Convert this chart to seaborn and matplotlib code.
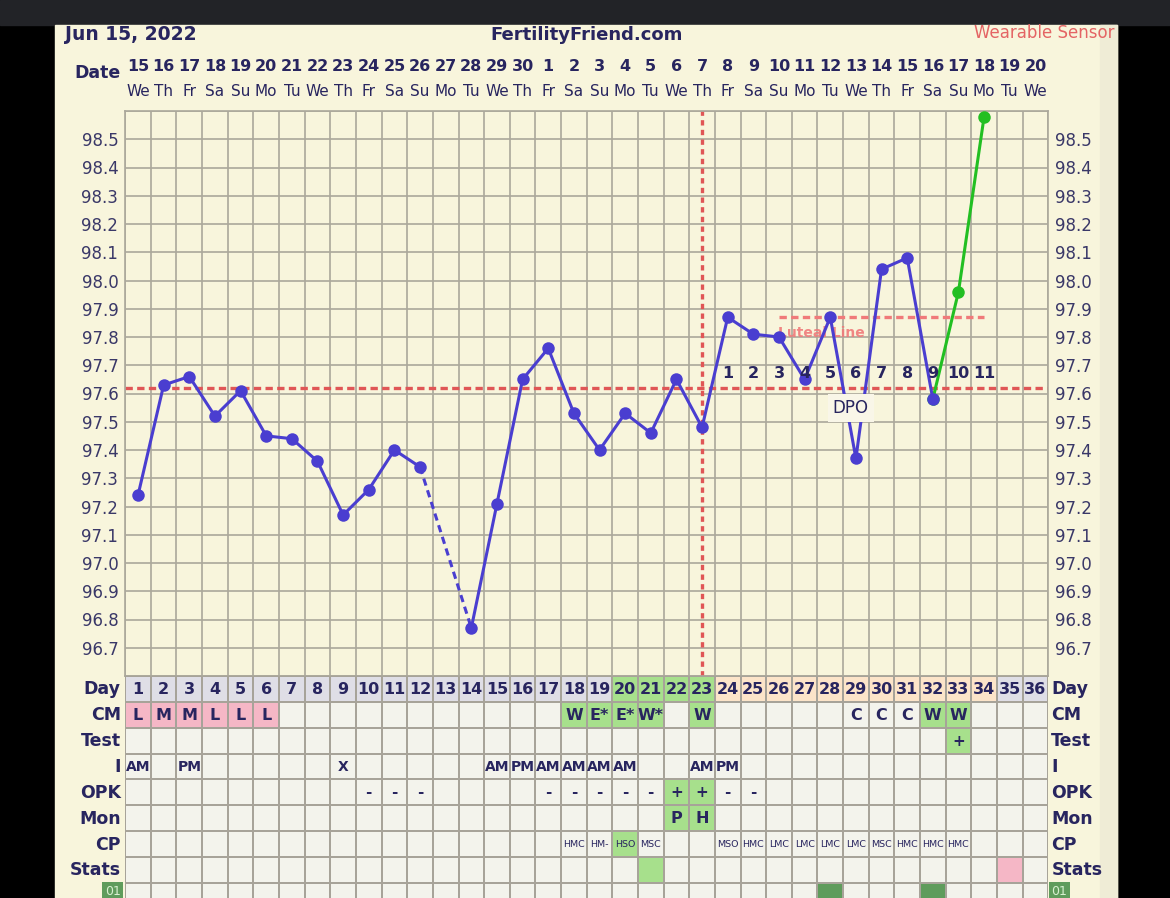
import matplotlib
matplotlib.use("Agg")
import matplotlib.pyplot as plt
from matplotlib.colors import ListedColormap
from matplotlib.patches import Rectangle
import numpy as np
import pandas as pd
import seaborn as sns

# ---- chart data ----
dates = ["15", "16", "17", "18", "19", "20", "21", "22", "23", "24", "25", "26",
         "27", "28", "29", "30", "1", "2", "3", "4", "5", "6", "7", "8", "9",
         "10", "11", "12", "13", "14", "15", "16", "17", "18", "19", "20"]
weekdays = ["We", "Th", "Fr", "Sa", "Su", "Mo", "Tu", "We", "Th", "Fr", "Sa", "Su",
            "Mo", "Tu", "We", "Th", "Fr", "Sa", "Su", "Mo", "Tu", "We", "Th", "Fr",
            "Sa", "Su", "Mo", "Tu", "We", "Th", "Fr", "Sa", "Su", "Mo", "Tu", "We"]
cycle_days = list(range(1, 35))
temps = [97.24, 97.63, 97.66, 97.52, 97.61, 97.45, 97.44, 97.36, 97.17, 97.26,
         97.40, 97.34, np.nan, 96.77, 97.21, 97.65, 97.76, 97.53, 97.40, 97.53,
         97.46, 97.65, 97.48, 97.87, 97.81, 97.80, 97.65, 97.87, 97.37, 98.04,
         98.08, 97.58, 97.96, 98.58]
missing_day = 13
sensor_from_day = 32          # green (wearable sensor) segment starts here
coverline = 97.62
ovulation_day = 23
luteal_temp = 97.87
luteal_span = [26, 34]
dpo_days = [24, 25, 26, 27, 28, 29, 30, 31, 32, 33, 34]
dpo_labels = ["1", "2", "3", "4", "5", "6", "7", "8", "9", "10", "11"]
y_ticks = [96.6, 96.7, 96.8, 96.9, 97.0, 97.1, 97.2, 97.3, 97.4, 97.5, 97.6,
           97.7, 97.8, 97.9, 98.0, 98.1, 98.2, 98.3, 98.4, 98.5, 98.6]

# ---- table data ----
row_labels = ["Day", "CM", "Test", "I", "OPK", "Mon", "CP", "Stats"]
n_days = 36
fertile_days = [20, 21, 22, 23]
luteal_days = [24, 25, 26, 27, 28, 29, 30, 31, 32, 33, 34]
cm_labels = {1: "L", 2: "M", 3: "M", 4: "L", 5: "L", 6: "L", 18: "W", 19: "E*",
             20: "E*", 21: "W*", 23: "W", 29: "C", 30: "C", 31: "C", 32: "W", 33: "W"}
cm_pink = [1, 2, 3, 4, 5, 6]
cm_green = [18, 19, 20, 21, 23, 32, 33]
test_labels = {33: "+"}
i_labels = {1: "AM", 3: "PM", 9: "X", 15: "AM", 16: "PM", 17: "AM", 18: "AM",
            19: "AM", 20: "AM", 23: "AM", 24: "PM"}
opk_labels = {10: "-", 11: "-", 12: "-", 17: "-", 18: "-", 19: "-", 20: "-",
              21: "-", 22: "+", 23: "+", 24: "-", 25: "-"}
opk_green = [22, 23]
mon_labels = {22: "P", 23: "H"}
cp_labels = {18: "HMC", 19: "HM-", 20: "HSO", 21: "MSC", 24: "MSO", 25: "HMC",
             26: "LMC", 27: "LMC", 28: "LMC", 29: "LMC", 30: "MSC", 31: "HMC",
             32: "HMC", 33: "HMC"}
cp_green = [20]
stats_green = [21]
stats_pink = [35]
extra_dark = [28, 32]

# ---- colours ----
NAVY = "#28255f"
BLUE = "#4a3ed0"
GREEN = "#22bf22"
RED = "#e05656"
PINK_LINE = "#f07a7a"
CREAM = "#f8f5dc"
GRID = "#aba89b"
cell_colors = ["#f3f3ec", "#dfdee6", "#a7e08c", "#fce4c9", "#f5b7c6", "#5f9c5c"]

W, H = 1170, 898


def fx(x):
    return x / W


def fy(y):
    return 1 - y / H


fig = plt.figure(figsize=(11.7, 8.98), dpi=100, facecolor="black")
sns.set_style("white")
plt.rcParams["font.family"] = ["DejaVu Sans"]

# page background
fig.add_artist(Rectangle((0, fy(25)), 1, 25 / H, transform=fig.transFigure,
                         color="#222327", zorder=0))
fig.add_artist(Rectangle((fx(55), 0), fx(1117 - 55), fy(25), transform=fig.transFigure,
                         color=CREAM, zorder=0))
fig.add_artist(Rectangle((fx(1100), 0), fx(17), fy(25), transform=fig.transFigure,
                         color="#efecd6", zorder=0))

# ---- temperature chart ----
left, right = 125.2, 1048.2
top, bottom = 111, 676
ax = fig.add_axes([fx(left), fy(bottom), fx(right - left), (bottom - top) / H])
ax.set_facecolor(CREAM)

df = pd.DataFrame({"day": cycle_days, "temp": temps})
blue_df = df[df["day"] <= sensor_from_day].dropna().copy()
blue_df["run"] = np.where(blue_df["day"] < missing_day, "a", "b")
green_df = df[df["day"] >= sensor_from_day]
gap_df = df[df["day"].isin([missing_day - 1, missing_day + 1])]

ax.axhline(coverline, color=RED, lw=2.4, ls=(0, (2.2, 1.3)), zorder=2)
ax.axvline(ovulation_day, color=RED, lw=2.4, ls=(0, (1.6, 1.3)), zorder=2)
ax.hlines(luteal_temp, luteal_span[0], luteal_span[1], color=PINK_LINE, lw=2.4,
          ls=(0, (2.2, 1.3)), zorder=2)
ax.text(luteal_span[0] - 0.05, luteal_temp - 0.055, "Luteal Line", color=PINK_LINE,
        fontsize=10, fontweight="bold", ha="left", va="center", alpha=0.9, zorder=2)

sns.lineplot(data=green_df, x="day", y="temp", color=GREEN, lw=2.2, marker="o",
             markersize=9, markeredgewidth=0, ax=ax, zorder=4)
sns.lineplot(data=blue_df, x="day", y="temp", units="run", estimator=None,
             color=BLUE, lw=2.2, marker="o", markersize=9, markeredgewidth=0,
             ax=ax, zorder=5)
sns.lineplot(data=gap_df, x="day", y="temp", color=BLUE, lw=2.2,
             linestyle=(0, (2.4, 1.6)), ax=ax, zorder=4)

for d, lab in zip(dpo_days, dpo_labels):
    ax.text(d, 97.67, lab, ha="center", va="center", fontsize=11.5,
            fontweight="bold", color=NAVY, zorder=6)
ax.text(28.8, 97.55, "DPO", ha="center", va="center", fontsize=12, color=NAVY,
        zorder=6, bbox=dict(boxstyle="square,pad=0.3", fc="#f9f6e8", ec="none"))

ax.set_xlim(0.5, n_days + 0.5)
ax.set_ylim(y_ticks[0], y_ticks[-1])
ax.set_xticks(np.arange(0.5, n_days + 1, 1))
ax.set_yticks(y_ticks)
ax.set_yticklabels([f"{t:.1f}" if 0 < i < len(y_ticks) - 1 else ""
                    for i, t in enumerate(y_ticks)])
ax.tick_params(axis="x", length=0, labelbottom=False)
ax.tick_params(axis="y", length=0, labelsize=12, labelcolor="#3a3868",
               labelright=True, pad=5)
ax.grid(True, color=GRID, lw=1.2, zorder=1)
ax.set_axisbelow(True)
for s in ax.spines.values():
    s.set_color(GRID)
    s.set_linewidth(1.2)
ax.set_xlabel("")
ax.set_ylabel("")

# date header
xt = ax.get_xaxis_transform()
for d, (lab, wd) in enumerate(zip(dates, weekdays), start=1):
    ax.text(d, 1.079, lab, transform=xt, ha="center", va="center", fontsize=11.5,
            fontweight="bold", color=NAVY)
    ax.text(d, 1.034, wd, transform=xt, ha="center", va="center", fontsize=11,
            color=NAVY)

fig.text(fx(121), fy(73), "Date", ha="right", va="center", fontsize=12.5,
         fontweight="bold", color=NAVY)
fig.text(fx(65), fy(35), "Jun 15, 2022", ha="left", va="center", fontsize=13.5,
         fontweight="bold", color=NAVY)
fig.text(fx(587), fy(35), "FertilityFriend.com", ha="center", va="center",
         fontsize=13, fontweight="bold", color=NAVY)
fig.text(fx(1114), fy(33), "Wearable Sensor", ha="right", va="center",
         fontsize=12, color="#e46464")

# ---- data table ----
row_h = 25.86
n_rows = 9
tax = fig.add_axes([fx(left), fy(bottom + n_rows * row_h), fx(right - left),
                    n_rows * row_h / H])

codes = np.zeros((n_rows, n_days))
for d in range(1, n_days + 1):
    codes[0, d - 1] = 2 if d in fertile_days else (3 if d in luteal_days else 1)
for d in cm_pink:
    codes[1, d - 1] = 4
for d in cm_green:
    codes[1, d - 1] = 2
for d in test_labels:
    codes[2, d - 1] = 2
for d in opk_green:
    codes[4, d - 1] = 2
for d in mon_labels:
    codes[5, d - 1] = 2
for d in cp_green:
    codes[6, d - 1] = 2
for d in stats_green:
    codes[7, d - 1] = 2
for d in stats_pink:
    codes[7, d - 1] = 4
for d in extra_dark:
    codes[8, d - 1] = 5

sns.heatmap(codes, cmap=ListedColormap(cell_colors), vmin=-0.5, vmax=5.5,
            cbar=False, linewidths=1.1, linecolor="#a7a399", ax=tax)
tax.set_xticks([])
tax.set_yticks([])

for d in range(1, n_days + 1):
    tax.text(d - 0.5, 0.52, str(d), ha="center", va="center", fontsize=11.5,
             fontweight="bold", color=NAVY)

bold_rows = [(1, cm_labels, 11.5), (2, test_labels, 11), (3, i_labels, 10),
             (4, opk_labels, 11), (5, mon_labels, 11.5)]
for r, labels, size in bold_rows:
    for d, lab in labels.items():
        tax.text(d - 0.5, r + 0.52, lab, ha="center", va="center", fontsize=size,
                 fontweight="bold", color=NAVY)
for d, lab in cp_labels.items():
    tax.text(d - 0.5, 6.5, lab, ha="center", va="center", fontsize=6.8,
             color=NAVY)

for r, lab in enumerate(row_labels):
    tax.text(-0.17, r + 0.52, lab, ha="right", va="center", fontsize=12.5,
             fontweight="bold", color=NAVY)
    tax.text(n_days + 0.12, r + 0.52, lab, ha="left", va="center", fontsize=12.5,
             fontweight="bold", color=NAVY)
for xpos, ha in [(-0.17, "right"), (n_days + 0.12, "left")]:
    tax.text(xpos, 8.33, "01", ha=ha, va="center", fontsize=9, color="#d8f0d0",
             bbox=dict(boxstyle="square,pad=0.2", fc="#5f9c5c", ec="none"))

fig.savefig("out.png", dpi=100, facecolor=fig.get_facecolor())
